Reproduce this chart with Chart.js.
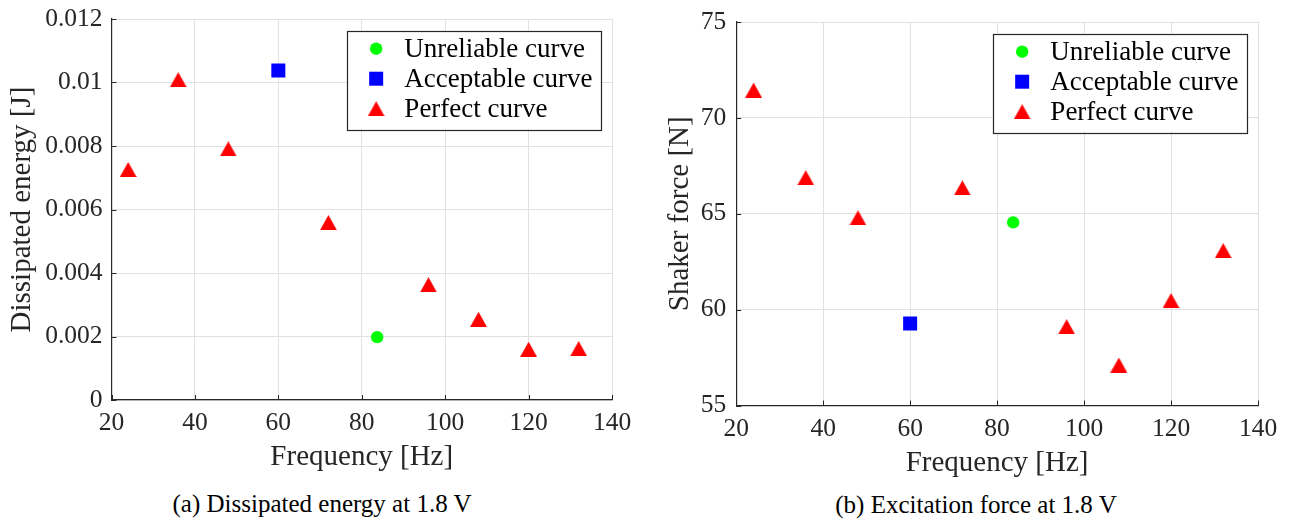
<!DOCTYPE html>
<html>
<head>
<meta charset="utf-8">
<script src="https://cdn.jsdelivr.net/npm/chart.js@4.4.1/dist/chart.umd.min.js"></script>
<style>
  html, body { margin: 0; padding: 0; background: #ffffff; }
  body { width: 1289px; height: 523px; position: relative; overflow: hidden; }
  canvas { position: absolute; top: 0; }
  #cLeft { left: 0; }
  #cRight { left: 645px; }
  .caption { position: absolute; font-family: "Liberation Serif", serif; font-size: 25px;
             line-height: 30px; color: #000; text-align: center; white-space: nowrap; }
</style>
</head>
<body>
<canvas id="cLeft" width="645" height="475"></canvas>
<canvas id="cRight" width="644" height="481"></canvas>
<div class="caption" style="left:22px; width:600px; top:489px;">(a) Dissipated energy at 1.8 V</div>
<div class="caption" style="left:676px; width:600px; top:490px;">(b) Excitation force at 1.8 V</div>
<script>
// ---------------- data ----------------
const seriesNames = ["Unreliable curve", "Acceptable curve", "Perfect curve"];

const freqUnreliable = [83.7];
const freqAcceptable = [60];
const freqPerfect = [24, 36, 48, 72, 96, 108, 120, 132];

const energyUnreliable = [0.00198];
const energyAcceptable = [0.01038];
const energyPerfect = [0.00726, 0.01009, 0.00791, 0.00559, 0.00363, 0.00254, 0.00160, 0.00162];

const forceUnreliable = [64.55];
const forceAcceptable = [59.27];
const forcePerfect = [71.45, 66.88, 64.79, 66.35, 59.11, 57.11, 60.47, 63.08];

const xTickValues = [20, 40, 60, 80, 100, 120, 140];
const xTickLabels = ["20", "40", "60", "80", "100", "120", "140"];
const energyTickValues = [0, 0.002, 0.004, 0.006, 0.008, 0.010, 0.012];
const energyTickLabels = ["0", "0.002", "0.004", "0.006", "0.008", "0.01", "0.012"];
const forceTickValues = [55, 60, 65, 70, 75];
const forceTickLabels = ["55", "60", "65", "70", "75"];

// ---------------- styling ----------------
const FONT = "Liberation Serif";
const AXIS_COLOR = "#262626";
const GRID_COLOR = "#e1e1e1";

// triangle marker whose bounding box is centred on the data point (as in MATLAB)
function makeTriangle(color) {
  const c = document.createElement("canvas");
  c.width = 17; c.height = 15;
  const g = c.getContext("2d");
  g.fillStyle = color;
  g.beginPath();
  g.moveTo(8.5, 0.1);
  g.lineTo(16.9, 14.9);
  g.lineTo(0.1, 14.9);
  g.closePath();
  g.fill();
  return c;
}

const styles = [
  { color: "#00ff00", pointStyle: "circle", radius: 6.2 },
  { color: "#0000ff", pointStyle: "rect", radius: 9.9 },
  { color: "#ff0000", pointStyle: makeTriangle("#ff0000"), radius: 9 }
];

function pts(xs, ys) { return xs.map((x, i) => ({ x: x, y: ys[i] })); }

function makeDatasets(groups) {
  return groups.map((g, i) => ({
    label: seriesNames[i],
    data: pts(g[0], g[1]),
    pointStyle: styles[i].pointStyle,
    pointRadius: styles[i].radius,
    pointHoverRadius: styles[i].radius,
    backgroundColor: styles[i].color,
    borderColor: styles[i].color,
    pointBorderWidth: 0,
    showLine: false
  }));
}

function drawMarker(ctx, style, x, y) {
  ctx.save();
  ctx.fillStyle = style.color;
  const r = style.radius;
  const ps = style.pointStyle;
  if (typeof ps !== "string") {
    ctx.drawImage(ps, x - ps.width / 2, y - ps.height / 2);
  } else {
    ctx.beginPath();
    if (ps === "circle") {
      ctx.arc(x, y, r, 0, Math.PI * 2);
    } else {
      const s = r * Math.SQRT1_2;
      ctx.rect(x - s, y - s, 2 * s, 2 * s);
    }
    ctx.fill();
  }
  ctx.restore();
}

// inner tick marks + boxed legend inside plot area
const matlabPlugin = {
  id: "matlabLook",
  afterDatasetsDraw(chart) {
    const ctx = chart.ctx;
    const area = chart.chartArea;
    const xs = chart.scales.x, ys = chart.scales.y;
    ctx.save();
    ctx.strokeStyle = AXIS_COLOR;
    ctx.lineWidth = 1;
    ctx.beginPath();
    xs.ticks.forEach(t => {
      const px = Math.round(xs.getPixelForValue(t.value)) + 0.5;
      ctx.moveTo(px, area.bottom);
      ctx.lineTo(px, area.bottom - 5);
    });
    ys.ticks.forEach(t => {
      const py = Math.round(ys.getPixelForValue(t.value)) + 0.5;
      ctx.moveTo(area.left, py);
      ctx.lineTo(area.left + 5, py);
    });
    ctx.stroke();

    // legend
    ctx.font = "27px '" + FONT + "'";
    let maxW = 0;
    chart.data.datasets.forEach(d => { maxW = Math.max(maxW, ctx.measureText(d.label).width); });
    const textOff = 57.5;
    const w = textOff + maxW + 8;
    const h = 98.5;
    const bx = area.right - 11.5 - w;
    const by = area.top + 11.7;
    ctx.fillStyle = "#ffffff";
    ctx.fillRect(bx, by, w, h);
    ctx.strokeStyle = AXIS_COLOR;
    ctx.lineWidth = 1.2;
    ctx.strokeRect(Math.round(bx) + 0.5, Math.round(by) + 0.5, Math.round(w), Math.round(h));
    chart.data.datasets.forEach((d, i) => {
      const cy = by + 18 + i * 30.0;
      drawMarker(ctx, styles[i], bx + 29.3, cy);
      ctx.fillStyle = "#000000";
      ctx.textBaseline = "middle";
      ctx.textAlign = "left";
      ctx.fillText(d.label, bx + textOff, cy + 1);
    });
    ctx.restore();
  }
};

function makeChart(canvasId, groups, cfg) {
  return new Chart(document.getElementById(canvasId), {
    type: "scatter",
    data: { datasets: makeDatasets(groups) },
    plugins: [matlabPlugin],
    options: {
      responsive: false,
      animation: false,
      events: [],
      layout: { padding: cfg.padding },
      plugins: { legend: { display: false }, tooltip: { enabled: false } },
      scales: {
        x: {
          type: "linear",
          min: 20, max: 140,
          afterBuildTicks: s => { s.ticks = xTickValues.map(v => ({ value: v })); },
          afterFit: s => { s.height = cfg.xHeight; s.paddingLeft = 0; s.paddingRight = 0; },
          ticks: {
            autoSkip: false, maxRotation: 0, padding: cfg.xTickPad,
            color: AXIS_COLOR, font: { family: FONT, size: 25.5 },
            callback: (v, i) => xTickLabels[i]
          },
          grid: { color: GRID_COLOR, lineWidth: 1, drawTicks: false },
          border: { color: AXIS_COLOR, width: 1.2 },
          title: { display: true, text: "Frequency [Hz]", color: AXIS_COLOR,
                   font: { family: FONT, size: 29 }, padding: { top: 0, bottom: 0 } }
        },
        y: {
          type: "linear",
          min: cfg.yMin, max: cfg.yMax,
          afterBuildTicks: s => { s.ticks = cfg.yTickValues.map(v => ({ value: v })); },
          afterFit: s => { s.width = cfg.yWidth; s.paddingTop = 0; s.paddingBottom = 0; },
          ticks: {
            autoSkip: false, padding: cfg.yTickPad,
            color: AXIS_COLOR, font: { family: FONT, size: 25.5 },
            callback: (v, i) => cfg.yTickLabels[i]
          },
          grid: { color: GRID_COLOR, lineWidth: 1, drawTicks: false },
          border: { color: AXIS_COLOR, width: 1.2 },
          title: { display: true, text: cfg.yTitle, color: AXIS_COLOR,
                   font: { family: FONT, size: 29 }, padding: { top: 0, bottom: 0 } }
        }
      }
    }
  });
}

makeChart("cLeft",
  [[freqUnreliable, energyUnreliable], [freqAcceptable, energyAcceptable], [freqPerfect, energyPerfect]],
  { padding: { left: 5, top: 19, right: 33, bottom: 0 }, xHeight: 75, yWidth: 106.5,
    xTickPad: 8, yTickPad: 9, yMin: 0, yMax: 0.012,
    yTickValues: energyTickValues, yTickLabels: energyTickLabels, yTitle: "Dissipated energy [J]" });

makeChart("cRight",
  [[freqUnreliable, forceUnreliable], [freqAcceptable, forceAcceptable], [freqPerfect, forcePerfect]],
  { padding: { left: 17.5, top: 22, right: 31, bottom: 0 }, xHeight: 75.5, yWidth: 73.7,
    xTickPad: 8, yTickPad: 10, yMin: 55, yMax: 75,
    yTickValues: forceTickValues, yTickLabels: forceTickLabels, yTitle: "Shaker force [N]" });
</script>
</body>
</html>
